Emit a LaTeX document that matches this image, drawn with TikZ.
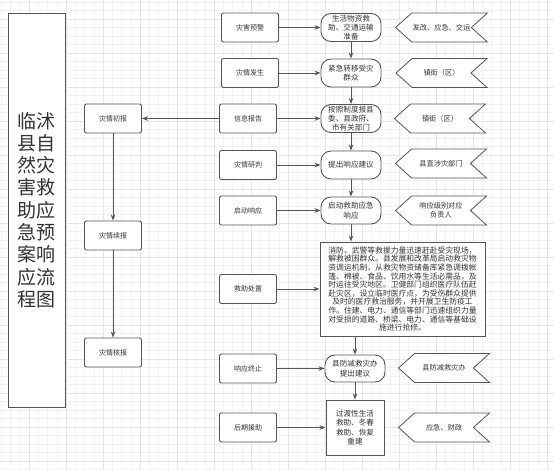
\documentclass[tikz,border=0pt]{standalone}
\usepackage{fontspec}
\setmainfont{Noto Sans CJK SC}
\usetikzlibrary{shapes.symbols, arrows.meta, positioning}

\definecolor{linegray}{RGB}{85,85,85}
\definecolor{textgray}{RGB}{51,51,51}
\definecolor{gridminor}{RGB}{243,243,243}
\definecolor{gridmajor}{RGB}{230,230,230}

\tikzset{
  stepbox/.style={draw=linegray, fill=white, line width=0.9pt, rounded corners=2pt, minimum width=57pt, minimum height=29pt, inner sep=1pt, font=\fontsize{7}{9}\selectfont, text=textgray},
  actbox/.style={draw=linegray, fill=white, line width=0.9pt, rounded corners=10pt, minimum width=60pt, minimum height=28pt, inner sep=1pt, align=center, font=\fontsize{7.6}{9.3}\selectfont, text=textgray},
  plainbox/.style={actbox, sharp corners},
  unitflag/.style={signal, signal to=west, signal from=east, signal pointer angle=84, draw=linegray, fill=white, line width=0.8pt, minimum width=91pt, minimum height=29pt, inner sep=1pt, align=center, font=\fontsize{7.2}{9}\selectfont, text=textgray},
  flow/.style={draw=linegray, line width=0.9pt, -{Stealth[length=6pt,width=4.5pt]}},
}

\begin{document}
\begin{tikzpicture}[x=1pt, y=-1pt]

        \useasboundingbox (0,0) rectangle (554,470);

        % Background grid
        \foreach \gx in {0,...,60} \draw[gridminor, line width=0.5pt] ({1.25+\gx*9.25},0) -- ({1.25+\gx*9.25},470);
        \foreach \gy in {0,...,55} \draw[gridminor, line width=0.5pt] (0,{2+\gy*8.5}) -- (554,{2+\gy*8.5});
        \foreach \gx in {0,...,15} \draw[gridmajor, line width=0.6pt] ({29+(\gx-1)*37},0) -- ({29+(\gx-1)*37},470);
        \foreach \gy in {0,...,14} \draw[gridmajor, line width=0.6pt] (0,{19+\gy*34}) -- (554,{19+\gy*34});

        % Title
        \node[draw=linegray, fill=white, line width=0.9pt, minimum width=57pt, minimum height=394pt, align=center, text=textgray, font=\fontsize{19}{22.3}\selectfont] (title) at (36.5,210) {临沭\\县自\\然灾\\害救\\助应\\急预\\案响\\应流\\程图};

        % Reports
        \node[stepbox] (chu) at (113,118.5) {灾情初报};
        \node[stepbox] (xu) at (113,235.5) {灾情续报};
        \node[stepbox] (he) at (113,352.5) {灾情核报};
        \draw[flow] (chu) -- (xu);
        \draw[flow] (xu) -- (he);

        % Stages
        \node[stepbox] (yujing) at (250,27.5) {灾害预警};
        \node[stepbox] (fasheng) at (250,73) {灾情发生};
        \node[stepbox] (xinxi) at (248,118.5) {信息报告};
        \node[stepbox] (yanpan) at (248,165) {灾情研判};
        \node[stepbox] (qidong) at (248,210.5) {启动响应};
        \node[stepbox] (jiuzhu) at (248,289) {救助处置};
        \node[stepbox] (zhongzhi) at (248,368.5) {响应终止};
        \node[stepbox] (yuanzhu) at (248,427.5) {后期援助};
        \draw[flow] (xinxi) -- (chu);

        % Actions
        \node[actbox] (wuzi) at (351,27.5) {生活物资救\\助、交通运输\\准备};
        \node[actbox] (zhuanyi) at (351,73) {紧急转移受灾\\群众};
        \node[actbox] (baogao) at (351,118.5) {按照制度报县\\委、县政府、\\市有关部门};
        \node[actbox] (jianyi) at (351,165) {提出响应建议};
        \node[actbox, minimum height=27pt] (yingji) at (351,210.5) {启动救助应急\\响应};
        \node[plainbox, minimum width=165pt, minimum height=94pt, font=\fontsize{7.8}{8.6}\selectfont] (chuzhi) at (402.5,289) {消防、武警等救援力量迅速赶赴受灾现场，\\解救被困群众。县发展和改革局启动救灾物\\资调运机制，从救灾物资储备库紧急调拨帐\\篷、棉被、食品、饮用水等生活必需品，及\\时运往受灾地区。卫健部门组织医疗队伍赶\\赴灾区，设立临时医疗点，为受伤群众提供\\及时的医疗救治服务，并开展卫生防疫工\\作。住建、电力、通信等部门迅速组织力量\\对受损的道路、桥梁、电力、通信等基础设\\施进行抢修。};
        \node[actbox, minimum height=27pt] (tichu) at (355,368.5) {县防减救灾办\\提出建议};
        \node[plainbox, minimum width=58pt, minimum height=55pt] (chongjian) at (355,427.5) {过渡性生活\\救助、冬春\\救助、恢复\\重建};

        \draw[flow] (yujing) -- (wuzi);
        \draw[flow] (fasheng) -- (zhuanyi);
        \draw[flow] (xinxi) -- (baogao);
        \draw[flow] (yanpan) -- (jianyi);
        \draw[flow] (qidong) -- (yingji);
        \draw[flow] (jiuzhu) -- (chuzhi);
        \draw[flow] (zhongzhi) -- (tichu);
        \draw[flow] (yuanzhu) -- (chongjian);

        \draw[flow] (wuzi) -- (zhuanyi);
        \draw[flow] (zhuanyi) -- (baogao);
        \draw[flow] (baogao) -- (jianyi);
        \draw[flow] (jianyi) -- (yingji);
        \draw[flow] (yingji) -- (yingji |- chuzhi.north);
        \draw[flow] (chuzhi.south -| tichu) -- (tichu);
        \draw[flow] (tichu) -- (chongjian);

        % Departments
        \node[unitflag] (dept1) at (441.5,27.5) {发改、应急、交运};
        \node[unitflag] (dept2) at (441.5,73) {镇街（区）};
        \node[unitflag] (dept3) at (440,118.5) {镇街（区）};
        \node[unitflag] (dept4) at (441,163.5) {县直涉灾部门};
        \node[unitflag] (dept5) at (441,210.5) {响应级别对应\\负责人};
        \node[unitflag] (dept6) at (444,368) {县防减救灾办};
        \node[unitflag] (dept7) at (444,427.5) {应急、财政};

    \end{tikzpicture}
\end{document}
